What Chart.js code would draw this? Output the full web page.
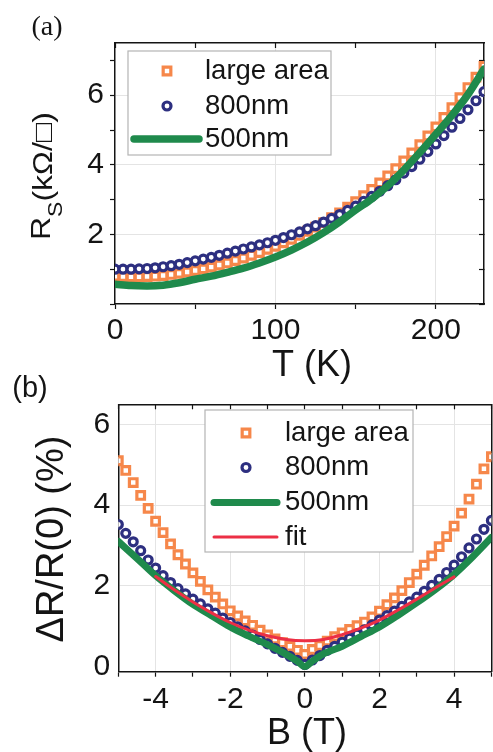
<!DOCTYPE html>
<html>
<head>
<meta charset="utf-8">
<script src="https://cdn.jsdelivr.net/npm/chart.js@4.4.1/dist/chart.umd.min.js"></script>
<style>
  html, body { margin: 0; padding: 0; background: #fff; overflow: hidden; width: 493px; height: 752px; }
  #chartA { position: absolute; left: 0; top: 0; }
  #chartB { position: absolute; left: 0; top: 360px; }
</style>
</head>
<body>
<canvas id="chartA" width="493" height="392"></canvas>
<canvas id="chartB" width="500" height="392"></canvas>
<script>
// ---- panel (a): sheet resistance vs temperature ----
const tempK = [0, 5, 10, 15, 20, 25, 30, 35, 40, 45, 50, 55, 60, 65, 70, 75, 80, 85, 90, 95,
  100, 105, 110, 115, 120, 125, 130, 135, 140, 145, 150, 155, 160, 165, 170, 175, 180, 185,
  190, 195, 200, 205, 210, 215, 220, 225, 230];
const rsLargeArea = [0.80, 0.79, 0.78, 0.78, 0.79, 0.80, 0.82, 0.85, 0.88, 0.92, 0.96, 1.01,
  1.06, 1.12, 1.18, 1.25, 1.32, 1.40, 1.48, 1.57, 1.66, 1.76, 1.86, 1.97, 2.09, 2.21, 2.34,
  2.48, 2.62, 2.78, 2.94, 3.11, 3.29, 3.48, 3.68, 3.89, 4.11, 4.34, 4.58, 4.83, 5.09, 5.36,
  5.64, 5.93, 6.22, 6.52, 6.83];
const rs800nm = [1.00, 1.00, 1.00, 1.01, 1.02, 1.04, 1.07, 1.10, 1.14, 1.19, 1.24, 1.29,
  1.34, 1.40, 1.46, 1.52, 1.58, 1.64, 1.70, 1.76, 1.83, 1.91, 1.99, 2.07, 2.16, 2.25, 2.35,
  2.46, 2.57, 2.69, 2.81, 2.95, 3.09, 3.24, 3.40, 3.57, 3.76, 3.95, 4.16, 4.38, 4.60, 4.84,
  5.08, 5.33, 5.58, 5.84, 6.10];
const tempK500 = [0, 10, 20, 30, 40, 50, 60, 70, 80, 90, 100, 110, 120, 130, 140, 150, 160,
  170, 180, 190, 200, 210, 220, 230];
const rs500nm = [0.57, 0.53, 0.52, 0.54, 0.61, 0.71, 0.80, 0.91, 1.03, 1.18, 1.35, 1.55,
  1.78, 2.05, 2.36, 2.70, 3.02, 3.40, 3.85, 4.35, 4.88, 5.42, 6.02, 6.75];

// ---- panel (b): magnetoresistance vs field ----
const fieldT = [-5, -4.8, -4.6, -4.4, -4.2, -4, -3.8, -3.6, -3.4, -3.2, -3, -2.8, -2.6, -2.4,
  -2.2, -2, -1.8, -1.6, -1.4, -1.2, -1, -0.8, -0.6, -0.4, -0.2, 0, 0.2, 0.4, 0.6, 0.8, 1, 1.2,
  1.4, 1.6, 1.8, 2, 2.2, 2.4, 2.6, 2.8, 3, 3.2, 3.4, 3.6, 3.8, 4, 4.2, 4.4, 4.6, 4.8, 5];
const mrLargeArea = [5.10, 4.86, 4.56, 4.24, 3.92, 3.60, 3.32, 3.04, 2.77, 2.54, 2.32, 2.11,
  1.90, 1.72, 1.55, 1.38, 1.25, 1.13, 1.02, 0.90, 0.78, 0.68, 0.59, 0.50, 0.40, 0.30, 0.42,
  0.52, 0.63, 0.74, 0.83, 0.92, 1.01, 1.10, 1.23, 1.37, 1.53, 1.70, 1.88, 2.08, 2.29, 2.51,
  2.74, 2.97, 3.22, 3.48, 3.80, 4.15, 4.52, 4.90, 5.20];
const mr800nm = [3.52, 3.30, 3.09, 2.87, 2.64, 2.44, 2.25, 2.08, 1.93, 1.80, 1.67, 1.55,
  1.43, 1.32, 1.20, 1.09, 0.98, 0.88, 0.78, 0.67, 0.56, 0.45, 0.35, 0.25, 0.15, 0.05, 0.16,
  0.27, 0.40, 0.50, 0.60, 0.70, 0.80, 0.91, 1.03, 1.15, 1.26, 1.37, 1.49, 1.60, 1.72, 1.86,
  2.01, 2.16, 2.33, 2.51, 2.72, 2.94, 3.16, 3.40, 3.62];
const fieldT500 = [-5, -4.5, -4, -3.5, -3, -2.5, -2, -1.5, -1, -0.5, -0.2, 0, 0.2, 0.5, 1,
  1.5, 2, 2.5, 3, 3.5, 4, 4.5, 5];
const mr500nm = [3.10, 2.68, 2.25, 1.88, 1.54, 1.26, 0.98, 0.75, 0.54, 0.30, 0.13, 0.00,
  0.13, 0.31, 0.50, 0.74, 0.98, 1.27, 1.58, 1.91, 2.28, 2.72, 3.20];
const fieldFit = [-4, -3.5, -3, -2.5, -2, -1.5, -1, -0.5, 0, 0.5, 1, 1.5, 2, 2.5, 3, 3.5, 4];
const mrFit = [2.23, 1.90, 1.60, 1.33, 1.09, 0.90, 0.76, 0.67, 0.64, 0.67, 0.79, 0.95, 1.15,
  1.40, 1.67, 1.95, 2.22];

const FONT = "'Liberation Sans', Arial, sans-serif";
const INK = '#141414';
const GRID = '#e4e4e4';
const ORANGE = '#f6874a';
const NAVY = '#2d2f80';
const GREEN = '#1f8a4c';
const RED = '#ec2f45';

Chart.defaults.font.family = FONT;
Chart.defaults.color = INK;

function pts(xs, ys) {
  return xs.map((x, i) => ({ x: x, y: ys[i] }));
}

function keepInside(scale) {
  scale.ticks = scale.ticks.filter(t => t.value >= scale.min - 1e-9 && t.value <= scale.max + 1e-9);
}

function markers(label, xs, ys, color, style, radius, order) {
  return {
    label: label, data: pts(xs, ys), showLine: false, order: order,
    pointStyle: style, pointRadius: radius, pointBorderWidth: 3.2,
    pointBorderColor: color, pointBackgroundColor: '#fff', borderColor: color
  };
}

function curve(label, xs, ys, color, width, order) {
  return {
    label: label, data: pts(xs, ys), showLine: true, order: order,
    borderColor: color, borderWidth: width, pointRadius: 0,
    cubicInterpolationMode: 'monotone', borderCapStyle: 'round'
  };
}

// draws axis titles and panel letters (supports subscripts)
const textPlugin = {
  id: 'panelText',
  afterDraw(chart, args, opts) {
    const ctx = chart.ctx;
    (opts.items || []).forEach(item => {
      ctx.save();
      ctx.translate(item.x, item.y);
      if (item.rotate) ctx.rotate(item.rotate);
      if (item.scaleY) ctx.scale(1, item.scaleY);
      ctx.fillStyle = INK;
      ctx.textBaseline = 'alphabetic';
      ctx.textAlign = 'left';
      let total = 0;
      item.parts.forEach(p => {
        ctx.font = p.size + 'px ' + (p.family || FONT);
        total += ctx.measureText(p.text).width;
      });
      let cx = item.align === 'center' ? -total / 2 : 0;
      item.parts.forEach(p => {
        ctx.font = p.size + 'px ' + (p.family || FONT);
        ctx.fillText(p.text, cx, p.dy || 0);
        cx += ctx.measureText(p.text).width;
      });
      ctx.restore();
    });
  }
};

// boxed legend inside the plot area
const boxLegend = {
  id: 'boxLegend',
  afterDraw(chart, args, o) {
    if (!o.box) return;
    const ctx = chart.ctx;
    const b = o.box;
    ctx.save();
    ctx.fillStyle = '#fff';
    ctx.fillRect(b[0], b[1], b[2] - b[0], b[3] - b[1]);
    ctx.strokeStyle = '#b4b4b4';
    ctx.lineWidth = 1.2;
    ctx.strokeRect(b[0], b[1], b[2] - b[0], b[3] - b[1]);
    chart.data.datasets.forEach((ds, i) => {
      const y = o.rows[i];
      if (ds.showLine) {
        ctx.strokeStyle = ds.borderColor;
        ctx.lineWidth = ds.borderWidth;
        ctx.lineCap = 'round';
        ctx.beginPath();
        ctx.moveTo(o.lineX[0], y);
        ctx.lineTo(o.lineX[1], y);
        ctx.stroke();
      } else {
        ctx.strokeStyle = ds.pointBorderColor;
        ctx.fillStyle = ds.pointBackgroundColor;
        ctx.lineWidth = ds.pointBorderWidth;
        Chart.helpers.drawPoint(ctx, {
          pointStyle: ds.pointStyle, radius: ds.pointRadius, borderWidth: ds.pointBorderWidth, rotation: 0
        }, o.symX, y);
      }
      ctx.fillStyle = INK;
      ctx.font = '27.5px ' + FONT;
      ctx.textBaseline = 'middle';
      ctx.textAlign = 'left';
      ctx.fillText(ds.label, o.textX, y);
    });
    ctx.restore();
  }
};

function gridIf(test) {
  return c => (c.tick && test(c.tick.value)) ? GRID : 'rgba(0,0,0,0)';
}

const tickFont = { family: FONT, size: 30 };

new Chart(document.getElementById('chartA'), {
  type: 'scatter',
  data: {
    datasets: [
      markers('large area', tempK, rsLargeArea, ORANGE, 'rect', 5.4, 3),
      markers('800nm', tempK, rs800nm, NAVY, 'circle', 4, 2),
      curve('500nm', tempK500, rs500nm, GREEN, 7.5, 1)
    ]
  },
  options: {
    responsive: false,
    animation: false,
    layout: { padding: { left: 0, right: 9, top: 43, bottom: 0 } },
    scales: {
      x: {
        type: 'linear', position: 'bottom', min: 0, max: 230,
        afterFit: s => { s.height = 88; },
        afterBuildTicks: keepInside,
        ticks: { stepSize: 50, includeBounds: false, autoSkip: false, maxRotation: 0, padding: 4,
          font: tickFont, color: INK, callback: v => (v % 100 === 0 ? String(v) : '') },
        grid: { color: gridIf(v => v % 100 === 0 && v > 0), tickColor: INK, tickLength: 5, tickWidth: 1.2 },
        border: { color: INK, width: 1.5 }
      },
      x2: {
        type: 'linear', position: 'top', min: 0, max: 230,
        afterFit: s => { s.height = 0; },
        afterBuildTicks: keepInside,
        ticks: { display: false, stepSize: 50, includeBounds: false },
        grid: { drawOnChartArea: false, tickColor: INK, tickLength: -5, tickWidth: 1.2 },
        border: { color: INK, width: 1.5 }
      },
      y: {
        type: 'linear', position: 'left', min: 0, max: 7.5,
        afterFit: s => { s.width = 115; },
        afterBuildTicks: keepInside,
        ticks: { stepSize: 1, includeBounds: false, autoSkip: false, padding: 6,
          font: tickFont, color: INK, callback: v => (v % 2 === 0 && v > 0 ? String(v) : '') },
        grid: { color: gridIf(v => v % 2 === 0 && v > 0), tickColor: INK, tickLength: 5, tickWidth: 1.2 },
        border: { color: INK, width: 1.5 }
      },
      y2: {
        type: 'linear', position: 'right', min: 0, max: 7.5,
        afterFit: s => { s.width = 0; },
        afterBuildTicks: keepInside,
        ticks: { display: false, stepSize: 1, includeBounds: false },
        grid: { drawOnChartArea: false, tickColor: INK, tickLength: -5, tickWidth: 1.2 },
        border: { color: INK, width: 1.5 }
      }
    },
    plugins: {
      legend: { display: false },
      tooltip: { enabled: false },
      boxLegend: { box: [128, 51, 331, 155], symX: 167, lineX: [134, 199], textX: 205, rows: [71, 106, 139] },
      panelText: {
        items: [
          { x: 47, y: 35, align: 'center', parts: [{ text: '(a)', size: 28, family: "'Liberation Serif', serif" }] },
          { x: 312, y: 376, align: 'center', parts: [{ text: 'T (K)', size: 36 }] },
          { x: 50, y: 240, rotate: -Math.PI / 2, scaleY: 0.85, parts: [
            { text: 'R', size: 32 }, { text: 'S', size: 23, dy: 14 }, { text: '(kΩ/□)', size: 32, dy: 2 }
          ] }
        ]
      }
    }
  },
  plugins: [textPlugin, boxLegend]
});

new Chart(document.getElementById('chartB'), {
  type: 'scatter',
  data: {
    datasets: [
      markers('large area', fieldT, mrLargeArea, ORANGE, 'rect', 5.4, 4),
      markers('800nm', fieldT, mr800nm, NAVY, 'circle', 4, 3),
      curve('500nm', fieldT500, mr500nm, GREEN, 7, 2),
      curve('fit', fieldFit, mrFit, RED, 3, 1)
    ]
  },
  options: {
    responsive: false,
    animation: false,
    layout: { padding: { left: 0, right: 3.4, top: 44.3, bottom: 0 } },
    scales: {
      x: {
        type: 'linear', position: 'bottom', min: -5, max: 5,
        afterFit: s => { s.height = 80.3; },
        afterBuildTicks: keepInside,
        ticks: { stepSize: 1, includeBounds: false, autoSkip: false, maxRotation: 0, padding: 5,
          font: tickFont, color: INK, callback: v => (v % 2 === 0 && Math.abs(v) < 5 ? String(v) : '') },
        grid: { color: gridIf(v => v % 2 === 0 && Math.abs(v) < 5), tickColor: INK, tickLength: 5, tickWidth: 1.2 },
        border: { color: INK, width: 1.5 }
      },
      x2: {
        type: 'linear', position: 'top', min: -5, max: 5,
        afterFit: s => { s.height = 0; },
        afterBuildTicks: keepInside,
        ticks: { display: false, stepSize: 1, includeBounds: false },
        grid: { drawOnChartArea: false, tickColor: INK, tickLength: -5, tickWidth: 1.2 },
        border: { color: INK, width: 1.5 }
      },
      y: {
        type: 'linear', position: 'left', min: -0.13, max: 6.5,
        afterFit: s => { s.width = 118.3; },
        afterBuildTicks: keepInside,
        ticks: { stepSize: 2, includeBounds: false, autoSkip: false, padding: 8,
          font: tickFont, color: INK },
        grid: { color: gridIf(v => v > 0), drawTicks: false },
        border: { color: INK, width: 1.5 }
      },
      y2: {
        type: 'linear', position: 'right', min: -0.13, max: 6.5,
        afterFit: s => { s.width = 0; },
        ticks: { display: false },
        grid: { drawOnChartArea: false, drawTicks: false },
        border: { color: INK, width: 1.5 }
      }
    },
    plugins: {
      legend: { display: false },
      tooltip: { enabled: false },
      boxLegend: { box: [205, 50, 413, 192], symX: 246, lineX: [214, 277], textX: 285, rows: [73, 107.5, 142.5, 177] },
      panelText: {
        items: [
          { x: 30, y: 37, align: 'center', parts: [{ text: '(b)', size: 29 }] },
          { x: 307, y: 384, align: 'center', parts: [{ text: 'B (T)', size: 36 }] },
          { x: 62.5, y: 179, rotate: -Math.PI / 2, align: 'center', parts: [{ text: 'ΔR/R(0) (%)', size: 38 }] }
        ]
      }
    }
  },
  plugins: [textPlugin, boxLegend]
});
</script>
</body>
</html>
